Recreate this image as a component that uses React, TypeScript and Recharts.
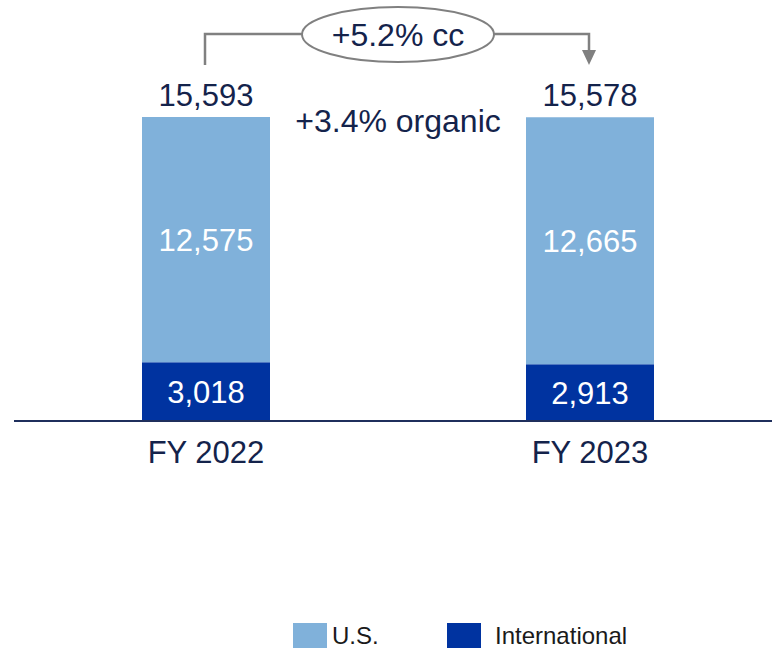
import React from "react";
import { Bar, BarChart, LabelList, XAxis, YAxis } from "recharts";

const years = ["FY 2022", "FY 2023"];
const usValues = [12575, 12665];
const intlValues = [3018, 2913];
const seriesNames = ["U.S.", "International"];
const growthCc = "+5.2% cc";
const growthOrganic = "+3.4% organic";

const US_COLOR = "#80b1da";
const INTL_COLOR = "#0033a0";
const NAVY = "#14234b";
const GREY = "#808080";
const FONT = "'Liberation Sans', Arial, sans-serif";

const W = 772;
const H = 649;
const CHART_W = 782; // plot runs past the right edge, clipped by the wrapper
const M = { top: 109, right: 0, bottom: 188, left: 14 };
const X_AXIS_H = 40;
const PLOT_W = CHART_W - M.left - M.right;

const data = years.map((year, i) => ({
  year,
  intl: intlValues[i],
  us: usValues[i],
  total: intlValues[i] + usValues[i],
}));

const fmt = (v: number) => v.toLocaleString("en-US");

function TotalLabel(props: any) {
  const { x, y, width, index } = props;
  return (
    <text
      x={x + width / 2}
      y={y - 11}
      textAnchor="middle"
      fill={NAVY}
      fontSize={31}
      fontFamily={FONT}
    >
      {fmt(data[index].total)}
    </text>
  );
}

function YearTick(props: any) {
  const { x, y, payload } = props;
  return (
    <text x={x} y={y} dy={42} textAnchor="middle" fill={NAVY} fontSize={31} fontFamily={FONT}>
      {payload.value}
    </text>
  );
}

function Annotation() {
  const cx = years.map((_, i) => M.left + (PLOT_W * (i + 0.5)) / years.length - 1);
  const midX = (cx[0] + cx[1]) / 2 + 1;
  const lineY = 34;
  const startY = 65;
  const rx = 96;
  const ry = 27.5;
  return (
    <svg
      width={W}
      height={H}
      style={{ position: "absolute", left: 0, top: 0, pointerEvents: "none" }}
    >
      <path
        d={`M${cx[0]},${startY} V${lineY} H${midX - rx}`}
        fill="none"
        stroke={GREY}
        strokeWidth={2.5}
      />
      <path
        d={`M${midX + rx},${lineY} H${cx[1]} V${startY - 14}`}
        fill="none"
        stroke={GREY}
        strokeWidth={2.5}
      />
      <polygon
        points={`${cx[1] - 7},${startY - 15} ${cx[1] + 7},${startY - 15} ${cx[1]},${startY}`}
        fill={GREY}
      />
      <ellipse cx={midX} cy={lineY + 0.5} rx={rx} ry={ry} fill="#fff" stroke={GREY} strokeWidth={2} />
      <text x={midX} y={lineY + 12} textAnchor="middle" fill={NAVY} fontSize={32} fontFamily={FONT}>
        {growthCc}
      </text>
      <text x={midX} y={132} textAnchor="middle" fill={NAVY} fontSize={32} fontFamily={FONT}>
        {growthOrganic}
      </text>
    </svg>
  );
}

function LegendRow() {
  const colors = [US_COLOR, INTL_COLOR];
  const textGap = [5, 14];
  return (
    <div
      style={{
        position: "absolute",
        left: 293,
        top: 623,
        display: "flex",
        fontFamily: FONT,
        fontSize: 24,
        color: "#1a1a1a",
      }}
    >
      {seriesNames.map((name, i) => (
        <div key={name} style={{ display: "flex", alignItems: "center", width: i === 0 ? 154 : "auto" }}>
          <div style={{ width: 34, height: 25, background: colors[i] }} />
          <span style={{ marginLeft: textGap[i], lineHeight: "25px" }}>{name}</span>
        </div>
      ))}
    </div>
  );
}

export default function App() {
  return (
    <div
      style={{
        position: "absolute",
        left: 0,
        top: 0,
        width: W,
        height: H,
        overflow: "hidden",
        background: "#fff",
      }}
    >
      <BarChart width={CHART_W} height={H} data={data} margin={M} barSize={128}>
        <XAxis
          dataKey="year"
          height={X_AXIS_H}
          tickLine={false}
          tickSize={0}
          tickMargin={0}
          axisLine={{ stroke: "#1f2f5c", strokeWidth: 2 }}
          tick={<YearTick />}
        />
        <YAxis hide domain={[0, 16000]} />
        <Bar dataKey="intl" name={seriesNames[1]} stackId="a" fill={INTL_COLOR} isAnimationActive={false}>
          <LabelList dataKey="intl" position="center" fill="#fff" fontSize={31} fontFamily={FONT} formatter={(v: any) => fmt(Number(v))} />
        </Bar>
        <Bar dataKey="us" name={seriesNames[0]} stackId="a" fill={US_COLOR} isAnimationActive={false}>
          <LabelList dataKey="us" position="center" fill="#fff" fontSize={31} fontFamily={FONT} formatter={(v: any) => fmt(Number(v))} />
          <LabelList dataKey="total" content={<TotalLabel />} />
        </Bar>
      </BarChart>
      <Annotation />
      <LegendRow />
    </div>
  );
}
